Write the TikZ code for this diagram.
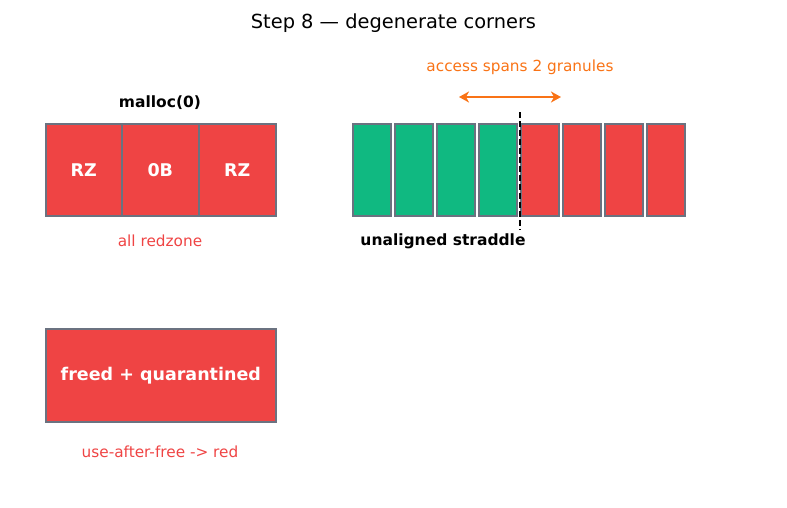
\documentclass[tikz,border=0pt]{standalone}
\usepackage{fontspec}
\setmainfont{DejaVu Sans}
\usetikzlibrary{arrows.meta}
\definecolor{cred}{HTML}{EF4444}
\definecolor{cgreen}{HTML}{10B981}
\definecolor{cedge}{HTML}{6B7280}
\definecolor{corange}{HTML}{F97316}
\begin{document}
\begin{tikzpicture}[x=1pt,y=-1pt,
  cell/.style={draw=cedge,line width=1.6pt,minimum height=92pt,inner sep=0pt,anchor=north west},
  celltext/.style={text=white,font=\fontsize{17.5}{19}\selectfont\bfseries},
  lbl/.style={font=\fontsize{15.3}{17}\selectfont},
  blbl/.style={font=\fontsize{15.5}{17}\selectfont\bfseries}]
\useasboundingbox (0,0) rectangle (787,507);
\node[font=\fontsize{19.4}{22}\selectfont] (title) at (393.5,23) {Step 8 — degenerate corners};
% left block
\node[cell,fill=cred,minimum width=76pt,celltext] (rz1) at (45,123) {RZ};
\node[cell,fill=cred,minimum width=77pt,celltext] (zb) at (121,123) {0B};
\node[cell,fill=cred,minimum width=77pt,celltext] (rz2) at (198,123) {RZ};
\node[blbl] (mal) at (160,103) {malloc(0)};
\node[lbl,text=cred] (allrz) at (160,241) {all redzone};
% freed block
\node[cell,fill=cred,minimum width=230pt,minimum height=93pt,celltext] (freed) at (45,328) {freed + quarantined};
\node[lbl,text=cred] (uaf) at (160,452) {use-after-free -> red};
% granules
\foreach \i in {0,...,3} {
  \node[cell,fill=cgreen,minimum width=38pt] (g\i) at (352+42*\i,123) {};
}
\foreach \i in {4,...,7} {
  \node[cell,fill=cred,minimum width=38pt] (g\i) at (352+42*\i,123) {};
}
\coordinate (dtop) at (520,112);
\coordinate (dbot) at (520,230);
\draw[black,line width=1.8pt,dash pattern=on 5.5pt off 3.5pt] (dtop) -- (dbot);
\coordinate (al) at (459,97);
\coordinate (ar) at (561,97);
\draw[corange,line width=2.8pt,{Stealth[length=10pt,width=11pt,inset=3pt]}-{Stealth[length=10pt,width=11pt,inset=3pt]}] (al) -- (ar);
\node[lbl,text=corange] (acc) at (520,67) {access spans 2 granules};
\node[blbl] (ua) at (443,241) {unaligned straddle};
\end{tikzpicture}
\end{document}
